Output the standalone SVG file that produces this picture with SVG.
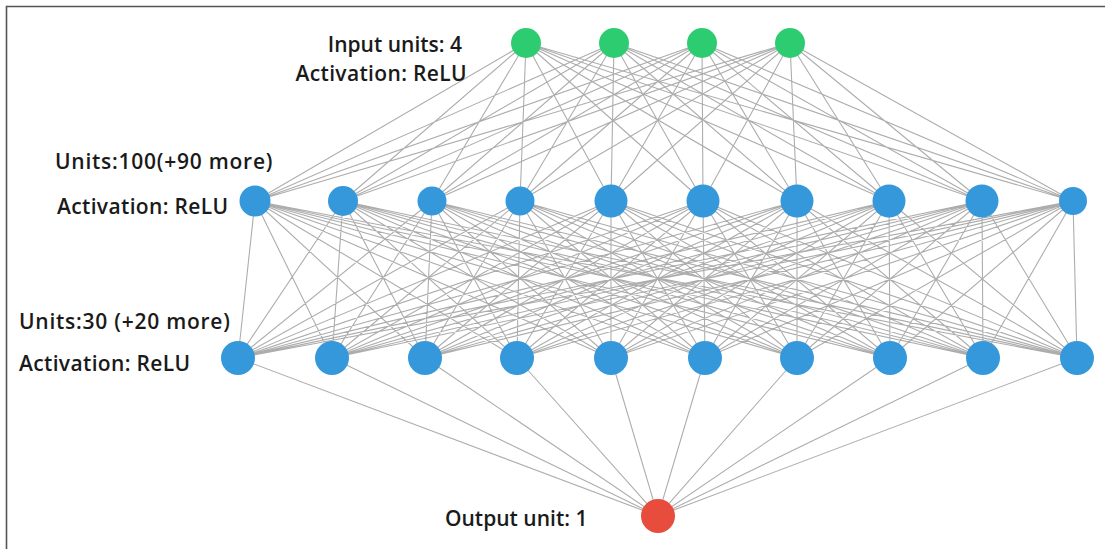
<svg xmlns="http://www.w3.org/2000/svg" width="1105" height="549" viewBox="0 0 1105 549">
  <style>
    .bg { fill: #ffffff; }
    .frame { stroke: #555555; stroke-width: 1.6; fill: none; }
    .edge { stroke: #adadad; stroke-width: 1.1; fill: none; }
    .in { fill: #2ecc71; }
    .hid { fill: #3498db; }
    .out { fill: #e74c3c; }
    .lbl { font-family: "Open Sans", "Noto Sans", "DejaVu Sans", sans-serif; font-size: 21px; font-weight: 600; fill: #1a1a1a; }
    .wide { letter-spacing: 0.75px; }
    .mid { letter-spacing: 0.35px; }
  </style>
  <rect class="bg" x="0" y="0" width="1105" height="549"/>
  <path class="frame" d="M6.5,549 L6.5,6.5 L1105,6.5"/>

  <!-- connectors: input -> hidden 1 -> hidden 2 -> output (fully connected) -->
  <g id="connectors">
    <!-- input layer to hidden layer 1 -->
    <path class="edge" d="
      M526,43 L255,201 M526,43 L343,201 M526,43 L432,201 M526,43 L520,201 M526,43 L611,201 M526,43 L703,201 M526,43 L797,201 M526,43 L889,201 M526,43 L982,201 M526,43 L1073,201
      M614,43 L255,201 M614,43 L343,201 M614,43 L432,201 M614,43 L520,201 M614,43 L611,201 M614,43 L703,201 M614,43 L797,201 M614,43 L889,201 M614,43 L982,201 M614,43 L1073,201
      M702,43 L255,201 M702,43 L343,201 M702,43 L432,201 M702,43 L520,201 M702,43 L611,201 M702,43 L703,201 M702,43 L797,201 M702,43 L889,201 M702,43 L982,201 M702,43 L1073,201
      M790,43 L255,201 M790,43 L343,201 M790,43 L432,201 M790,43 L520,201 M790,43 L611,201 M790,43 L703,201 M790,43 L797,201 M790,43 L889,201 M790,43 L982,201 M790,43 L1073,201"/>
    <!-- hidden layer 1 to hidden layer 2 -->
    <path class="edge" d="
      M255,201 L238,358 M255,201 L332,358 M255,201 L425,358 M255,201 L517,358 M255,201 L611,358 M255,201 L705,358 M255,201 L797,358 M255,201 L890,358 M255,201 L983,358 M255,201 L1077,358
      M343,201 L238,358 M343,201 L332,358 M343,201 L425,358 M343,201 L517,358 M343,201 L611,358 M343,201 L705,358 M343,201 L797,358 M343,201 L890,358 M343,201 L983,358 M343,201 L1077,358
      M432,201 L238,358 M432,201 L332,358 M432,201 L425,358 M432,201 L517,358 M432,201 L611,358 M432,201 L705,358 M432,201 L797,358 M432,201 L890,358 M432,201 L983,358 M432,201 L1077,358
      M520,201 L238,358 M520,201 L332,358 M520,201 L425,358 M520,201 L517,358 M520,201 L611,358 M520,201 L705,358 M520,201 L797,358 M520,201 L890,358 M520,201 L983,358 M520,201 L1077,358
      M611,201 L238,358 M611,201 L332,358 M611,201 L425,358 M611,201 L517,358 M611,201 L611,358 M611,201 L705,358 M611,201 L797,358 M611,201 L890,358 M611,201 L983,358 M611,201 L1077,358
      M703,201 L238,358 M703,201 L332,358 M703,201 L425,358 M703,201 L517,358 M703,201 L611,358 M703,201 L705,358 M703,201 L797,358 M703,201 L890,358 M703,201 L983,358 M703,201 L1077,358
      M797,201 L238,358 M797,201 L332,358 M797,201 L425,358 M797,201 L517,358 M797,201 L611,358 M797,201 L705,358 M797,201 L797,358 M797,201 L890,358 M797,201 L983,358 M797,201 L1077,358
      M889,201 L238,358 M889,201 L332,358 M889,201 L425,358 M889,201 L517,358 M889,201 L611,358 M889,201 L705,358 M889,201 L797,358 M889,201 L890,358 M889,201 L983,358 M889,201 L1077,358
      M982,201 L238,358 M982,201 L332,358 M982,201 L425,358 M982,201 L517,358 M982,201 L611,358 M982,201 L705,358 M982,201 L797,358 M982,201 L890,358 M982,201 L983,358 M982,201 L1077,358
      M1073,201 L238,358 M1073,201 L332,358 M1073,201 L425,358 M1073,201 L517,358 M1073,201 L611,358 M1073,201 L705,358 M1073,201 L797,358 M1073,201 L890,358 M1073,201 L983,358 M1073,201 L1077,358"/>
    <!-- hidden layer 2 to output -->
    <path class="edge" d="
      M238,358 L658,516 M332,358 L658,516 M425,358 L658,516 M517,358 L658,516 M611,358 L658,516
      M705,358 L658,516 M797,358 L658,516 M890,358 L658,516 M983,358 L658,516 M1077,358 L658,516"/>
  </g>

  <!-- input layer -->
  <g id="in1"><circle class="in" cx="526" cy="43" r="15"/></g>
  <g id="in2"><circle class="in" cx="614" cy="43" r="15"/></g>
  <g id="in3"><circle class="in" cx="702" cy="43" r="15"/></g>
  <g id="in4"><circle class="in" cx="790" cy="43" r="15"/></g>

  <!-- hidden layer 1 -->
  <g id="h1-1"><circle class="hid" cx="255" cy="201" r="15.5"/></g>
  <g id="h1-2"><circle class="hid" cx="343" cy="201" r="15"/></g>
  <g id="h1-3"><circle class="hid" cx="432" cy="201" r="14.5"/></g>
  <g id="h1-4"><circle class="hid" cx="520" cy="201" r="14.5"/></g>
  <g id="h1-5"><circle class="hid" cx="611" cy="201" r="16.5"/></g>
  <g id="h1-6"><circle class="hid" cx="703" cy="201" r="16.5"/></g>
  <g id="h1-7"><circle class="hid" cx="797" cy="201" r="16.5"/></g>
  <g id="h1-8"><circle class="hid" cx="889" cy="201" r="16.5"/></g>
  <g id="h1-9"><circle class="hid" cx="982" cy="201" r="16.5"/></g>
  <g id="h1-10"><circle class="hid" cx="1073" cy="201" r="14"/></g>

  <!-- hidden layer 2 -->
  <g id="h2-1"><circle class="hid" cx="238" cy="358" r="17"/></g>
  <g id="h2-2"><circle class="hid" cx="332" cy="358" r="17"/></g>
  <g id="h2-3"><circle class="hid" cx="425" cy="358" r="17"/></g>
  <g id="h2-4"><circle class="hid" cx="517" cy="358" r="17"/></g>
  <g id="h2-5"><circle class="hid" cx="611" cy="358" r="17"/></g>
  <g id="h2-6"><circle class="hid" cx="705" cy="358" r="17"/></g>
  <g id="h2-7"><circle class="hid" cx="797" cy="358" r="17"/></g>
  <g id="h2-8"><circle class="hid" cx="890" cy="358" r="17"/></g>
  <g id="h2-9"><circle class="hid" cx="983" cy="358" r="17"/></g>
  <g id="h2-10"><circle class="hid" cx="1077" cy="358" r="17"/></g>

  <!-- output -->
  <g id="out1"><circle class="out" cx="658" cy="516" r="17"/></g>

  <!-- layer labels -->
  <g id="labels">
    <text class="lbl" x="462" y="52" text-anchor="end">Input units: 4</text>
    <text class="lbl mid" x="467" y="81" text-anchor="end">Activation: ReLU</text>
    <text class="lbl wide" x="55" y="169">Units:100(+90 more)</text>
    <text class="lbl mid" x="57" y="214">Activation: ReLU</text>
    <text class="lbl wide" x="19" y="329">Units:30 (+20 more)</text>
    <text class="lbl mid" x="19" y="371">Activation: ReLU</text>
    <text class="lbl" x="445" y="526">Output unit: 1</text>
  </g>
</svg>
